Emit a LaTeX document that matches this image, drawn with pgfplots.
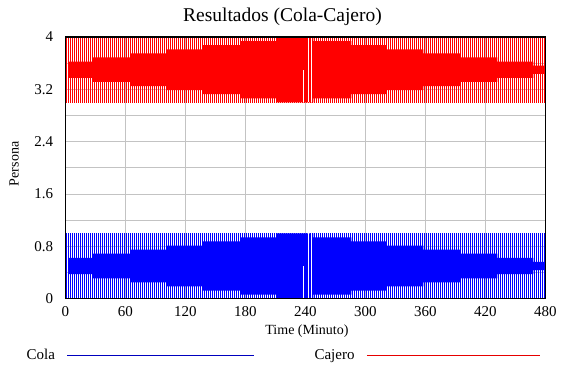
\documentclass[border=0pt]{standalone}
\usepackage{fontspec}
\setmainfont{Liberation Serif}
\usepackage{pgfplots}
\pgfplotsset{compat=1.18}
\usetikzlibrary{patterns.meta}
\definecolor{legblue}{RGB}{0,0,190}
\definecolor{legred}{RGB}{230,0,0}
\definecolor{gridgray}{RGB}{195,195,195}
\begin{document}
\begin{tikzpicture}
\begin{axis}[
  name=ax, at={(0,0)}, anchor=south west,
  scale only axis, width=480bp, height=261.7bp,
  xmin=0, xmax=480, ymin=0, ymax=4,
  xtick={0,60,120,180,240,300,360,420,480},
  ytick={0,0.8,1.6,2.4,3.2,4},
  yticklabels={0,0.8,1.6,2.4,3.2,4},
  minor ytick={0.4,1.2,2.0,2.8,3.6},
  xmajorgrids, ymajorgrids, yminorgrids,
  major grid style={draw=gridgray, line width=1bp},
  minor grid style={draw=gridgray, line width=1bp},
  major tick length=0pt, minor tick length=0pt,
  axis line style={black, line width=1.5bp},
  tick label style={font=\fontsize{15bp}{15bp}\selectfont},
  /pgf/number format/assume math mode=true,
  xticklabel style={anchor=base, yshift=-18bp},
  yticklabel style={anchor=east, inner sep=0pt, xshift=-12bp},
  title={Resultados (Cola-Cajero)},
  every axis title/.style={at={(axis description cs:0.4525,1)}, anchor=base, yshift=15.3bp, font=\fontsize{19.5bp}{20bp}\selectfont},
  xlabel={Time (Minuto)},
  every axis x label/.style={at={(axis description cs:0.5035,0)}, anchor=base, yshift=-35.3bp, font=\fontsize{14bp}{14bp}\selectfont},
  ylabel={Persona},
  every axis y label/.style={at={(axis description cs:-0.1069,0.515)}, rotate=90, anchor=center, font=\fontsize{14bp}{14bp}\selectfont},
  legend plot pos=right,
  legend columns=2,
  legend cell align=left,
  legend style={draw=none, fill=none, inner sep=0pt, outer sep=0pt,
    at={(axis description cs:0,0)}, anchor=west, xshift=-38.6bp, yshift=-56.8bp,
    font=\fontsize{15bp}{15bp}\selectfont,
    nodes={inner sep=0pt, outer sep=0pt},
    /tikz/column sep=11.7bp,
    /tikz/every even column/.append style={column sep=60bp}},
]
% ---- Cola (hatched full range 0..1) ----
\addplot[draw=none, pattern={Lines[angle=90,distance=2bp,line width=1bp]}, pattern color=blue, forget plot]
  coordinates {(0,0)(480,0)(480,1)(0,1)} -- cycle;
% ---- Cola dense band ----
\addplot[draw=none, fill=blue, forget plot] coordinates {
 (3,0.625)(27,0.625)(27,0.6875)(65,0.6875)(65,0.75)(101,0.75)(101,0.8125)(137,0.8125)
 (137,0.875)(175,0.875)(175,0.9375)(211,0.9375)(211,1)(248,1)(248,0.9375)(286,0.9375)
 (286,0.875)(321,0.875)(321,0.8125)(358,0.8125)(358,0.75)(395,0.75)(395,0.6875)(432,0.6875)
 (432,0.625)(468,0.625)(468,0.5625)(480,0.5625)
 (480,0.4375)(468,0.4375)(468,0.375)(432,0.375)(432,0.3125)(395,0.3125)(395,0.25)(358,0.25)
 (358,0.1875)(321,0.1875)(321,0.125)(286,0.125)(286,0.0625)(248,0.0625)(248,0)(211,0)
 (211,0.0625)(175,0.0625)(175,0.125)(137,0.125)(137,0.1875)(101,0.1875)(101,0.25)(65,0.25)
 (65,0.3125)(27,0.3125)(27,0.375)(3,0.375)} -- cycle;
\addplot[white, line width=1bp, forget plot] coordinates {(238.7,0)(238.7,0.5)};
\addplot[white, line width=1bp, forget plot] coordinates {(243.7,0)(243.7,1)};
\addplot[white, line width=1bp, forget plot] coordinates {(246.7,0)(246.7,1)};
% ---- Cajero (hatched full range 3..4) ----
\addplot[draw=none, pattern={Lines[angle=90,distance=2bp,line width=1bp]}, pattern color=red, forget plot]
  coordinates {(0,3)(480,3)(480,4)(0,4)} -- cycle;
% ---- Cajero dense band ----
\addplot[draw=none, fill=red, forget plot] coordinates {
 (3,3.625)(27,3.625)(27,3.6875)(65,3.6875)(65,3.75)(101,3.75)(101,3.8125)(137,3.8125)
 (137,3.875)(175,3.875)(175,3.9375)(211,3.9375)(211,4)(248,4)(248,3.9375)(286,3.9375)
 (286,3.875)(321,3.875)(321,3.8125)(358,3.8125)(358,3.75)(395,3.75)(395,3.6875)(432,3.6875)
 (432,3.625)(468,3.625)(468,3.5625)(480,3.5625)
 (480,3.4375)(468,3.4375)(468,3.375)(432,3.375)(432,3.3125)(395,3.3125)(395,3.25)(358,3.25)
 (358,3.1875)(321,3.1875)(321,3.125)(286,3.125)(286,3.0625)(248,3.0625)(248,3)(211,3)
 (211,3.0625)(175,3.0625)(175,3.125)(137,3.125)(137,3.1875)(101,3.1875)(101,3.25)(65,3.25)
 (65,3.3125)(27,3.3125)(27,3.375)(3,3.375)} -- cycle;
\addplot[white, line width=1bp, forget plot] coordinates {(238.7,3)(238.7,3.5)};
\addplot[white, line width=1bp, forget plot] coordinates {(243.7,3)(243.7,4)};
\addplot[white, line width=1bp, forget plot] coordinates {(246.7,3)(246.7,4)};
\addlegendimage{legend image code/.code={\draw[draw=legblue, line width=1.2bp] (0bp,0bp) -- (186.6bp,0bp);}}
\addlegendentry{Cola}
\addlegendimage{legend image code/.code={\draw[draw=legred, line width=1.2bp] (0bp,0bp) -- (173.3bp,0bp);}}
\addlegendentry{Cajero}
\end{axis}
% frame redrawn over the data
\draw[black, line width=1.5bp] (ax.south west) rectangle (ax.north east);
\pgfresetboundingbox
\path[use as bounding box] (-65.3bp,-74.3bp) rectangle (499.7bp,298.7bp);
\end{tikzpicture}
\end{document}
